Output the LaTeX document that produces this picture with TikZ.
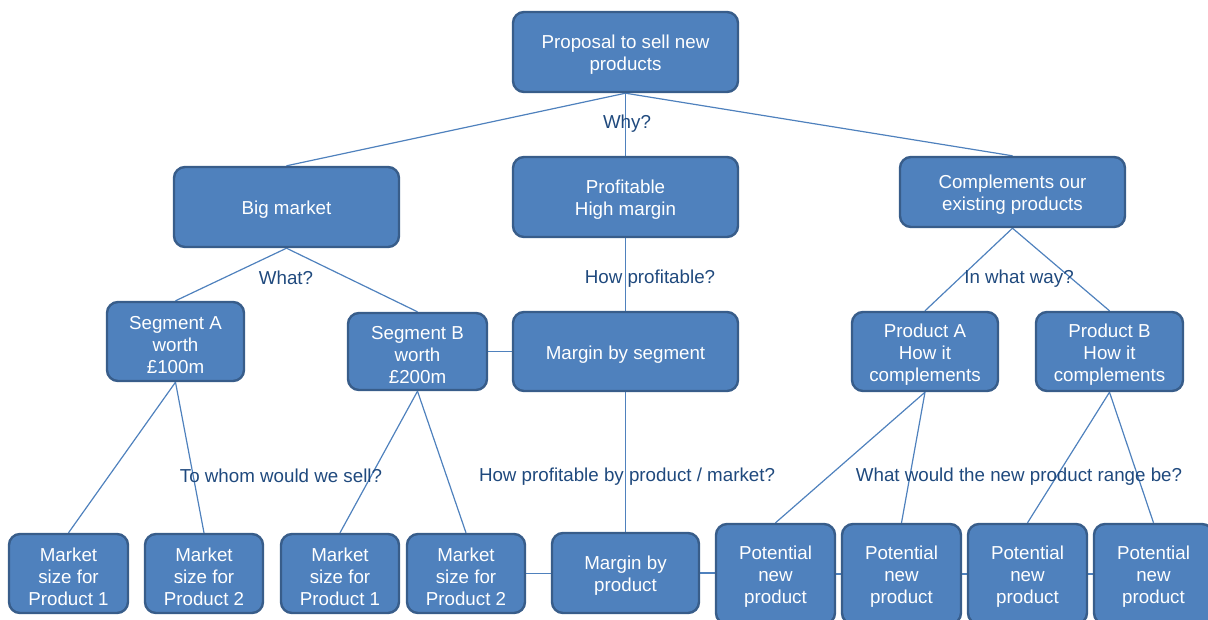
\documentclass[tikz,border=0pt]{standalone}
\usepackage{fontspec}
\setmainfont{Liberation Sans}
\usetikzlibrary{backgrounds}
\definecolor{boxfill}{HTML}{4F81BD}
\definecolor{boxline}{HTML}{385D8A}
\definecolor{linkline}{HTML}{4F81BD}
\definecolor{labeltext}{HTML}{1F497D}
% a taller first line sets the text a little lower in its box
\newcommand{\firstline}{\rule{0pt}{19.6pt}}
\begin{document}
\begin{tikzpicture}[x=1pt,y=-1pt,
  box/.style={draw=boxline, line width=2.4pt, fill=boxfill, rounded corners=11pt,
    text=white, align=center, inner sep=0pt,
    font=\fontsize{18.75}{22}\selectfont},
  link/.style={draw=linkline, line width=1.2pt},
  ask/.style={text=labeltext, inner sep=0pt, font=\fontsize{18.75}{22}\selectfont}]
\useasboundingbox (0,0) rectangle (1208,619);

% top level
\node[box, minimum width=225pt, minimum height=80pt] (prop) at (625.5,52) {\firstline Proposal to sell new\\products};

% reasons
\node[box, minimum width=225pt, minimum height=80pt] (big) at (286.5,207) {\firstline Big market};
\node[box, minimum width=225pt, minimum height=80pt] (prof) at (625.5,197) {\firstline Profitable\\High margin};
\node[box, minimum width=225pt, minimum height=70pt] (comp) at (1012.5,192) {\firstline Complements our\\existing products};

% second level
\node[box, minimum width=137pt, minimum height=79pt] (segA) at (175.5,341.5) {\firstline Segment A\\worth\\£100m};
\node[box, minimum width=139pt, minimum height=77pt] (segB) at (417.5,351.5) {\firstline Segment B\\worth\\£200m};
\node[box, minimum width=225pt, minimum height=79pt] (mseg) at (625.5,351.5) {\firstline Margin by segment};
\node[box, minimum width=146pt, minimum height=79pt] (prodA) at (925,351.5) {\firstline Product A\\How it\\complements};
\node[box, minimum width=147pt, minimum height=79pt] (prodB) at (1109.5,351.5) {\firstline Product B\\How it\\complements};

% bottom row
\node[box, minimum width=119pt, minimum height=79pt] (mp1a) at (68.5,573.5) {\firstline Market\\size for\\Product 1};
\node[box, minimum width=118pt, minimum height=79pt] (mp2a) at (204,573.5) {\firstline Market\\size for\\Product 2};
\node[box, minimum width=118pt, minimum height=79pt] (mp1b) at (340,573.5) {\firstline Market\\size for\\Product 1};
\node[box, minimum width=118pt, minimum height=79pt] (mp2b) at (466,573.5) {\firstline Market\\size for\\Product 2};
\node[box, minimum width=147pt, minimum height=80pt] (mprod) at (625.5,573) {\firstline Margin by\\product};
\node[box, minimum width=119pt, minimum height=100pt] (pot1) at (775.5,574) {\firstline Potential\\new\\product};
\node[box, minimum width=119pt, minimum height=100pt] (pot2) at (901.5,574) {\firstline Potential\\new\\product};
\node[box, minimum width=119pt, minimum height=100pt] (pot3) at (1027.5,574) {\firstline Potential\\new\\product};
\node[box, minimum width=119pt, minimum height=100pt] (pot4) at (1153.5,574) {\firstline Potential\\new\\product};

% question labels
\node[ask] (qwhy) at (627,124) {Why?};
\node[ask] (qwhat) at (286,277.5) {What?};
\node[ask] (qhow) at (650,279) {How profitable?};
\node[ask] (qway) at (1019,279) {In what way?};
\node[ask] (qwhom) at (281,476) {To whom would we sell?};
\node[ask] (qprod) at (627,477) {How profitable by product / market?};
\node[ask] (qrange) at (1019,477) {What would the new product range be?};

% connectors behind the boxes
\begin{pgfonlayer}{background}
  \draw[link] (prop.south) -- (big.north);
  \draw[link] (prop.south) -- (prof.north);
  \draw[link] (prop.south) -- (comp.north);
  \draw[link] (big.south) -- (segA.north);
  \draw[link] (big.south) -- (segB.north);
  \draw[link] (prof.south) -- (mseg.north);
  \draw[link] (segB.east) -- (mseg.west);
  \draw[link] (comp.south) -- (prodA.north);
  \draw[link] (comp.south) -- (prodB.north);
  \draw[link] (segA.south) -- (mp1a.north);
  \draw[link] (segA.south) -- (mp2a.north);
  \draw[link] (segB.south) -- (mp1b.north);
  \draw[link] (segB.south) -- (mp2b.north);
  \draw[link] (mseg.south) -- (mprod.north);
  \draw[link] (prodA.south) -- (pot1.north);
  \draw[link] (prodA.south) -- (pot2.north);
  \draw[link] (prodB.south) -- (pot3.north);
  \draw[link] (prodB.south) -- (pot4.north);
  \draw[link] (mp2b.east) -- (mp2b.east -| mprod.west);
  \draw[link] (mprod.east) -- (mprod.east -| pot1.west);
  \draw[link] (pot1.east) -- (pot2.west);
  \draw[link] (pot2.east) -- (pot3.west);
  \draw[link] (pot3.east) -- (pot4.west);
\end{pgfonlayer}
\end{tikzpicture}
\end{document}
